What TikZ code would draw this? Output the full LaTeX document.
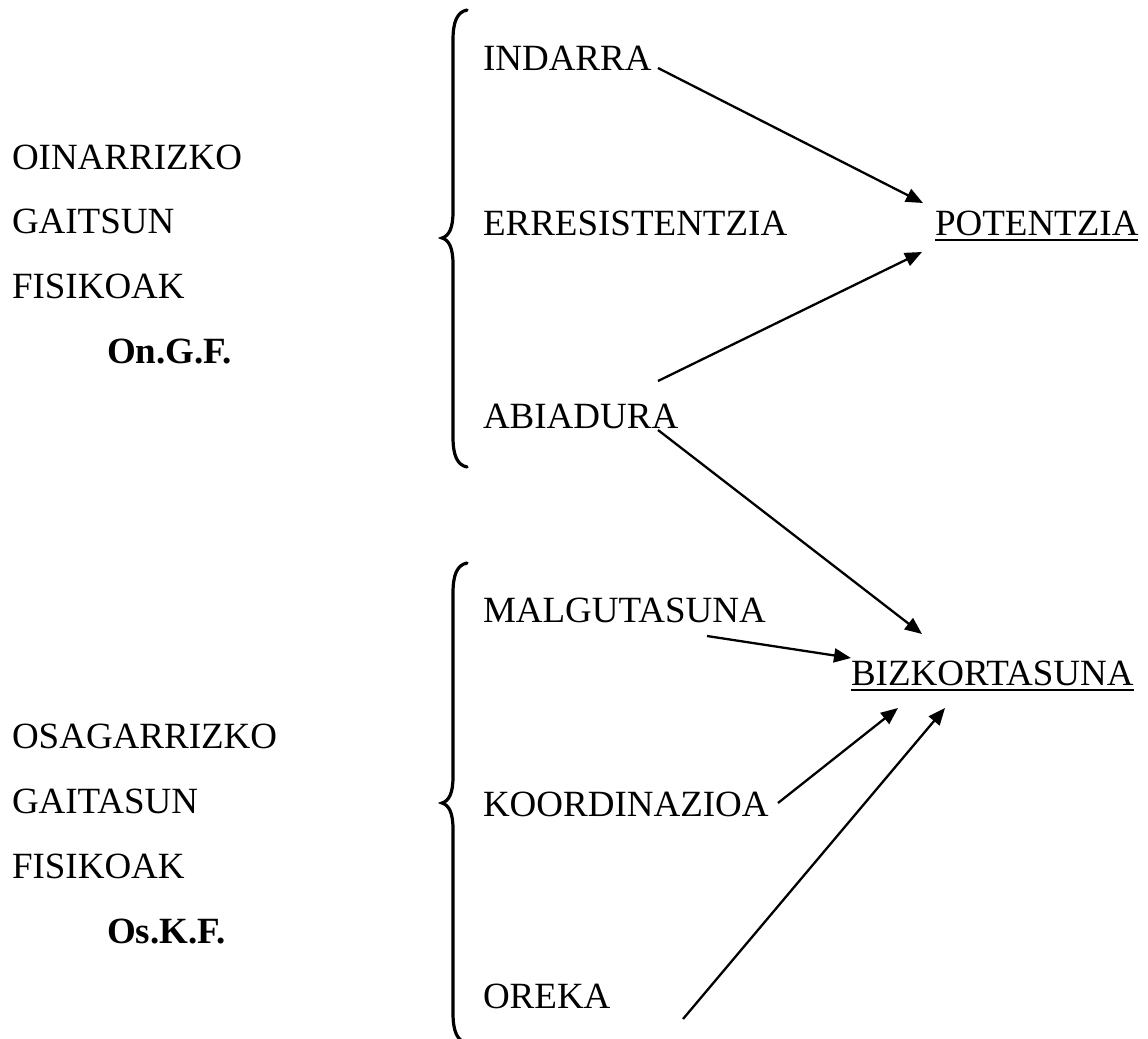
\documentclass[tikz,border=0pt]{standalone}
\usepackage{fontspec}
\setmainfont{Liberation Serif}
\usetikzlibrary{arrows.meta}
\newcommand\myuline[1]{\setbox0\hbox{#1}\rlap{\vrule height -2.2pt depth 3.2pt width \wd0}\box0}
\begin{document}
\begin{tikzpicture}[x=0.5pt,y=-0.5pt,
  lbl/.style={anchor=base west,inner sep=0pt,outer sep=0pt,font=\fontsize{18.5}{22}\selectfont},
  bld/.style={lbl,font=\fontsize{18.5}{22}\selectfont\bfseries},
  arr/.style={line width=1.15pt,-{Triangle[length=8.5pt,width=7pt]}},
  bracestyle/.style={line width=1.6pt,line cap=round}]
\useasboundingbox (0,0) rectangle (1148,1039);
% left labels
\node[lbl] (oin) at (12,169) {OINARRIZKO};
\node[lbl] (gaitsun) at (12,233) {GAITSUN};
\node[lbl] (fis1) at (12,298) {FISIKOAK};
\node[bld] (ongf) at (107,363) {On.G.F.};
\node[lbl] (osa) at (12,748) {OSAGARRIZKO};
\node[lbl] (gaitasun) at (12,813) {GAITASUN};
\node[lbl] (fis2) at (12,878) {FISIKOAK};
\node[bld] (oskf) at (107,943) {Os.K.F.};
% middle labels
\node[lbl] (indarra) at (483,70) {INDARRA};
\node[lbl] (erres) at (483,235) {ERRESISTENTZIA};
\node[lbl] (abia) at (483,428) {ABIADURA};
\node[lbl] (malgu) at (483,622) {MALGUTASUNA};
\node[lbl] (koord) at (483,816) {KOORDINAZIOA};
\node[lbl] (oreka) at (483,1008) {OREKA};
% right labels
\node[lbl] (pot) at (935,235) {\myuline{POTENTZIA}};
\node[lbl] (biz) at (851,685) {\myuline{BIZKORTASUNA}};
% braces
\draw[bracestyle] (467,10) .. controls (457,12) and (453,22) .. (453,40) -- (453,212)
  .. controls (453,228) and (449,236) .. (442,238)
  .. controls (449,240) and (453,248) .. (453,264) -- (453,437)
  .. controls (453,455) and (457,465) .. (467,467);
\draw[bracestyle] (467,563) .. controls (457,565) and (453,575) .. (453,593) -- (453,777)
  .. controls (453,793) and (449,801) .. (442,803)
  .. controls (449,805) and (453,813) .. (453,829) -- (453,1013)
  .. controls (453,1031) and (457,1041) .. (467,1043);
% connector ends
\coordinate (indarra-out) at (658,68);
\coordinate (pot-in1) at (923,203);
\coordinate (abia-out1) at (658,381);
\coordinate (pot-in2) at (922,252);
\coordinate (abia-out2) at (658,430);
\coordinate (biz-in1) at (922,634);
\coordinate (malgu-out) at (707,636);
\coordinate (biz-in2) at (851,658);
\coordinate (koord-out) at (778,803);
\coordinate (biz-in3) at (898,708);
\coordinate (oreka-out) at (683,1019);
\coordinate (biz-in4) at (945,708);
\draw[arr] (indarra-out) -- (pot-in1);
\draw[arr] (abia-out1) -- (pot-in2);
\draw[arr] (abia-out2) -- (biz-in1);
\draw[arr] (malgu-out) -- (biz-in2);
\draw[arr] (koord-out) -- (biz-in3);
\draw[arr] (oreka-out) -- (biz-in4);
\end{tikzpicture}
\end{document}
